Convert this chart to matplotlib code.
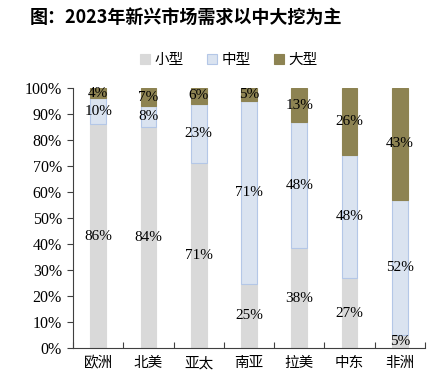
import numpy as np
import matplotlib.pyplot as plt

plt.rcParams['font.family'] = ['Liberation Serif', 'Noto Sans CJK SC', 'DejaVu Sans']

regions = ['欧洲', '北美', '亚太', '南亚', '拉美', '中东', '非洲']
small = [86, 84, 71, 25, 38, 27, 5]
medium = [10, 8, 23, 71, 48, 48, 52]
large = [4, 7, 6, 5, 13, 26, 43]
series_names = ['小型', '中型', '大型']

colors = ['#D9D9D9', '#DAE3F0', '#8D8352']
edges = ['#D9D9D9', '#B4C7E7', '#8D8352']

data = np.array([small, medium, large], dtype=float)
share = data / data.sum(axis=0) * 100

fig = plt.figure(figsize=(4.36, 3.72), dpi=100)
ax = fig.add_axes([73 / 436, 1 - 348 / 372, 352 / 436, 260 / 372])

x = np.arange(len(regions))
bottom = np.zeros(len(regions))
for i in range(3):
    ax.bar(x, share[i], 0.31, bottom=bottom, color=colors[i], edgecolor=edges[i],
           linewidth=0.8, label=series_names[i])
    for j in range(len(regions)):
        ax.text(x[j], bottom[j] + share[i][j] / 2, '%d%%' % data[i][j],
                ha='center', va='center', fontsize=11, color='black')
    bottom += share[i]

ax.set_xlim(-0.5, len(regions) - 0.5)
ax.set_ylim(0, 100)
ax.set_yticks(np.arange(0, 101, 10))
ax.set_yticklabels(['%d%%' % v for v in range(0, 101, 10)], fontsize=11.5)
ax.set_xticks(np.arange(-0.5, len(regions), 1))
ax.set_xticklabels([])
ax.set_xticks(x, minor=True)
ax.set_xticklabels(regions, minor=True, fontsize=10.5, family=['Noto Sans CJK SC'])
ax.tick_params(axis='x', which='minor', length=0, pad=6)
ax.tick_params(axis='x', which='major', direction='in', length=4, color='#404040')
ax.tick_params(axis='y', direction='out', length=4, color='#404040', pad=4)
for s in ['top', 'right']:
    ax.spines[s].set_visible(False)
for s in ['left', 'bottom']:
    ax.spines[s].set_color('#404040')
    ax.spines[s].set_linewidth(0.8)

fig.text(30 / 436, 1 - 17 / 372, '图：2023年新兴市场需求以中大挖为主', fontsize=13,
         fontweight='bold', va='center', ha='left',
         family=['Noto Sans CJK SC'])

handles, labels = ax.get_legend_handles_labels()
fig.legend(handles, labels, loc='center', bbox_to_anchor=(0.525, 1 - 60 / 372), ncol=3,
           frameon=False, handlelength=0.7, handleheight=0.7, handletextpad=0.3,
           columnspacing=1.6, prop={'family': 'Noto Sans CJK SC', 'size': 10.5})

fig.savefig('out.png', dpi=100)
